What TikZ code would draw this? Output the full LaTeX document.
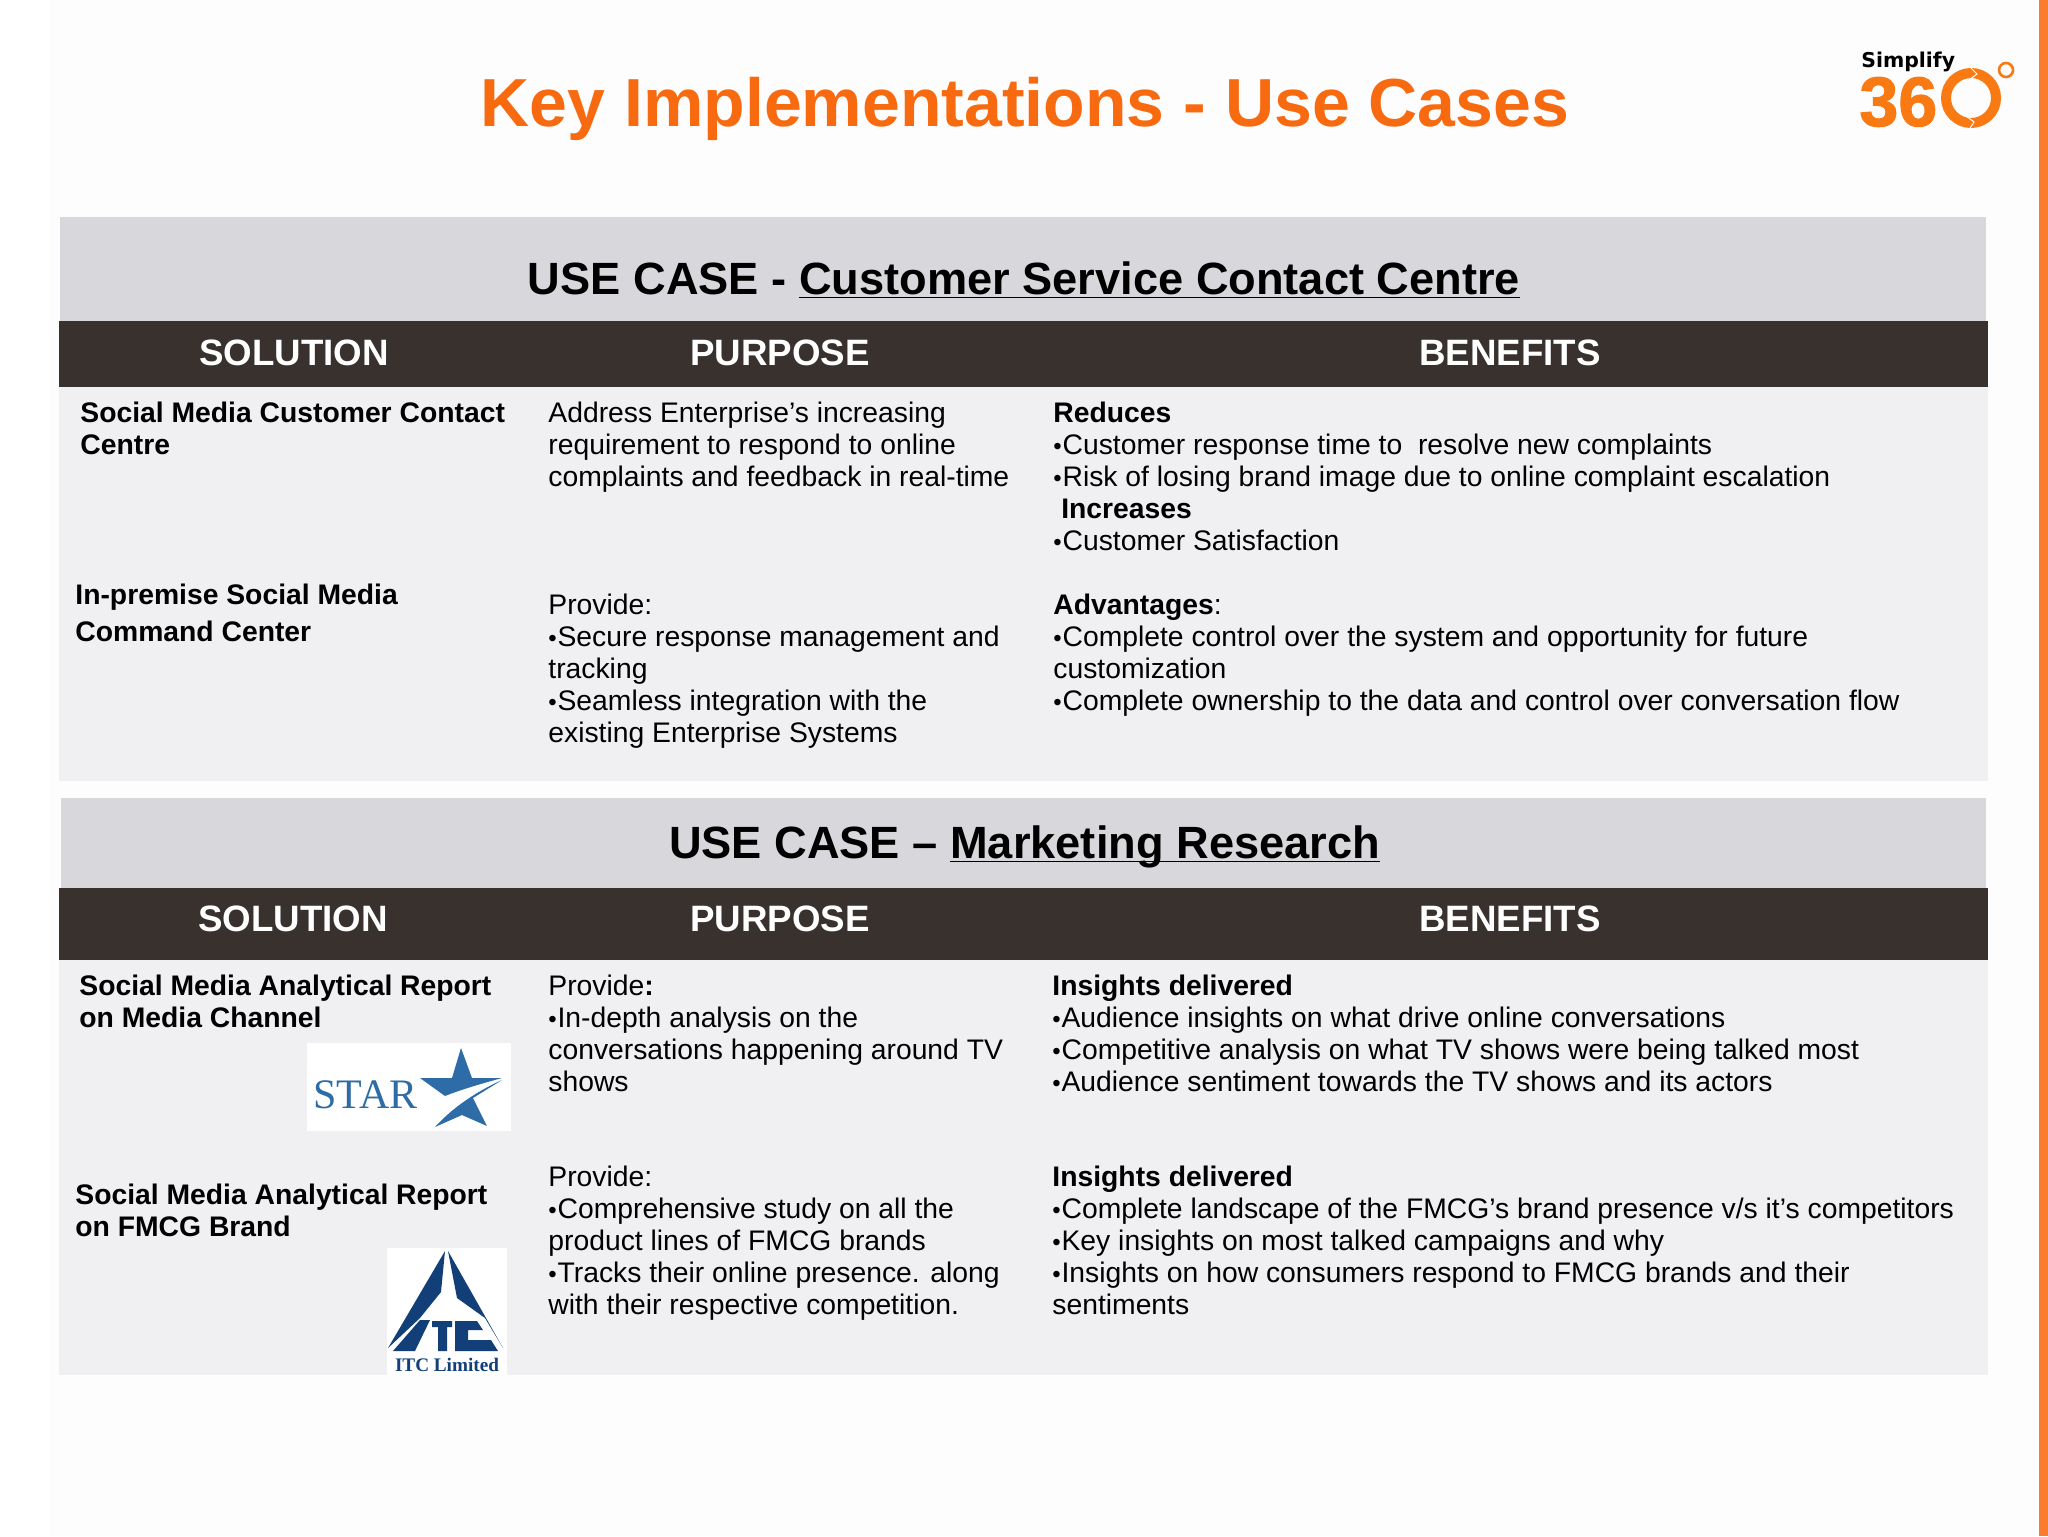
\documentclass[tikz,border=0pt]{standalone}
\usepackage{fontspec}
\setmainfont{Liberation Sans}
\newfontfamily\serifface{Liberation Serif}
\newfontfamily\logoface{DejaVu Sans}
\newfontfamily\heavyface[BoldFeatures={FakeBold=1.6}]{Liberation Sans}
\newcommand{\ulin}[1]{\underline{\smash{#1}}}
\newcommand{\bul}{\makebox[4.6pt][l]{\fontsize{12}{12}\selectfont •}}
\definecolor{orangeT}{HTML}{F86A10}
\definecolor{orangeL}{HTML}{F97A12}
\definecolor{barO}{HTML}{FB7D2C}
\definecolor{panel}{HTML}{F0EFF2}
\definecolor{greyB}{HTML}{D8D7DB}
\definecolor{darkB}{HTML}{38312E}
\definecolor{starB}{HTML}{2D6CA6}
\definecolor{itcB}{HTML}{123F78}
\definecolor{pageB}{HTML}{FDFDFE}
\tikzset{
  x=0.5pt,y=-0.5pt,
  hdr/.style={text=white,font=\fontsize{18.35}{20}\selectfont\bfseries,anchor=center,inner sep=0},
  usecase/.style={text=black,font=\fontsize{22.6}{26}\selectfont\bfseries,anchor=center,inner sep=0},
  body/.style={text=black,font=\fontsize{14.15}{15.9}\selectfont,anchor=north west,inner sep=0,align=left},
  lab/.style={text=black,font=\fontsize{14.15}{15.9}\selectfont\bfseries,anchor=north west,inner sep=0,align=left},
}
\begin{document}
\begin{tikzpicture}
\useasboundingbox (0,0) rectangle (2048,1536);
\fill[pageB] (0,0) rectangle (2048,1536);
\fill[white] (0,0) rectangle (50,1536);
\fill[barO] (2039,0) rectangle (2048,1536);
% bands
\fill[greyB] (60,217) rectangle (1986,321);
\fill[darkB] (59,321) rectangle (1988,387);
\fill[panel] (59,387) rectangle (1988,781);
\fill[greyB] (61,798) rectangle (1986,888);
\fill[darkB] (59,888) rectangle (1988,960);
\fill[panel] (59,960) rectangle (1988,1375);
% title
\node[text=orangeT,font=\fontsize{34}{38}\selectfont\bfseries,inner sep=0] (title) at (1025,109) {Key Implementations - Use Cases};
% logo
\node[anchor=base west,inner sep=0,font=\logoface\fontsize{10.2}{12}\selectfont\bfseries] (simp) at (1861,68) {Simplify};
\node[anchor=base west,inner sep=0,text=orangeL,font=\heavyface\fontsize{35}{36}\selectfont\bfseries] (three) at (1859,126) {36};
\draw[orangeL,line width=5pt] (1971,98) circle[radius=25];
\draw[white,line width=0.5pt] (1971,68) -- (1977,74) -- (1969,80);
\draw[white,line width=0.5pt] (1966,116) -- (1974,122) -- (1970,128);
\draw[orangeL,line width=1.3pt] (2006,70) circle[radius=7];
% first use case
\node[usecase] (uc1) at (1024,281) {USE CASE - \ulin{Customer Service Contact Centre}};
\node[hdr] (s1) at (294,353) {SOLUTION};
\node[hdr] (p1) at (780,353) {PURPOSE};
\node[hdr] (b1) at (1510,353) {BENEFITS};
\node[lab] (a1) at (80,402) {Social Media Customer Contact\\Centre};
\node[body] (a2) at (548,402) {Address Enterprise’s increasing\\requirement to respond to online\\complaints and feedback in real-time};
\node[body] (a3) at (1053,402) {\textbf{Reduces}\\\bul Customer response time to\ \ resolve new complaints\\\bul Risk of losing brand image due to online complaint escalation\\\ \textbf{Increases}\\\bul Customer Satisfaction};
\node[lab,font=\fontsize{14.15}{18.2}\selectfont\bfseries] (a4) at (75,584) {In-premise Social Media\\Command Center};
\node[body] (a5) at (548,594) {Provide:\\\bul Secure response management and\\tracking\\\bul Seamless integration with the\\existing Enterprise Systems};
\node[body] (a6) at (1053,594) {\textbf{Advantages}:\\\bul Complete control over the system and opportunity for future\\customization\\\bul Complete ownership to the data and control over conversation flow};
% second use case
\node[usecase] (uc2) at (1024.5,845) {USE CASE – \ulin{Marketing Research}};
\node[hdr] (s2) at (293,919) {SOLUTION};
\node[hdr] (p2) at (780,919) {PURPOSE};
\node[hdr] (b2) at (1510,919) {BENEFITS};
\node[lab] (c1) at (79,975) {Social Media Analytical Report\\on Media Channel};
\node[body] (c2) at (548,975) {Provide\textbf{:}\\\bul In-depth analysis on the\\conversations happening around TV\\shows};
\node[body] (c3) at (1052,975) {\textbf{Insights delivered}\\\bul Audience insights on what drive online conversations\\\bul Competitive analysis on what TV shows were being talked most\\\bul Audience sentiment towards the TV shows and its actors};
\node[lab] (c4) at (75,1184) {Social Media Analytical Report\\on FMCG Brand};
\node[body] (c5) at (548,1166) {Provide:\\\bul Comprehensive study on all the\\product lines of FMCG brands\\\bul Tracks their online presence. along\\with their respective competition.};
\node[body] (c6) at (1052,1166) {\textbf{Insights delivered}\\\bul Complete landscape of the FMCG’s brand presence v/s it’s competitors\\\bul Key insights on most talked campaigns and why\\\bul Insights on how consumers respond to FMCG brands and their\\sentiments};
% STAR logo
\fill[white] (307,1043) rectangle (511,1131);
\node[anchor=base west,inner sep=0,text=starB,font=\serifface\fontsize{21}{24}\selectfont] (star) at (313,1108) {STAR};
\fill[starB] (461,1048) -- (472,1078) -- (502,1078) .. controls (480,1084) and (460,1090) .. (445,1096) -- (420,1078) -- (452,1078) -- cycle;
\fill[starB] (435,1127) .. controls (455,1105) and (480,1090) .. (502,1080) -- (473,1098) -- (487,1126) -- (462,1115) -- cycle;
% ITC logo
\fill[white] (387,1248) rectangle (507,1375);
\fill[itcB] (445,1251) -- (388,1348) -- (420,1318) -- (441,1292) -- cycle;
\fill[itcB] (448,1251) -- (503,1348) -- (485,1318) -- (457,1298) -- cycle;
\fill[itcB] (420,1320) -- (430,1320) -- (415,1351) -- (393,1351) -- cycle;
\fill[itcB] (432,1321) -- (452,1321) -- (452,1327) -- (447,1327) -- (447,1351) -- (438,1351) -- (438,1327) -- (432,1327) -- cycle;
\fill[itcB] (455,1321) -- (477,1321) -- (483,1330) -- (468,1330) -- (468,1340) -- (491,1340) -- (498,1351) -- (455,1351) -- cycle;
\node[anchor=base,inner sep=0,text=itcB,font=\serifface\fontsize{9.6}{10}\selectfont\bfseries] (itc) at (447,1371) {ITC Limited};
\end{tikzpicture}
\end{document}
